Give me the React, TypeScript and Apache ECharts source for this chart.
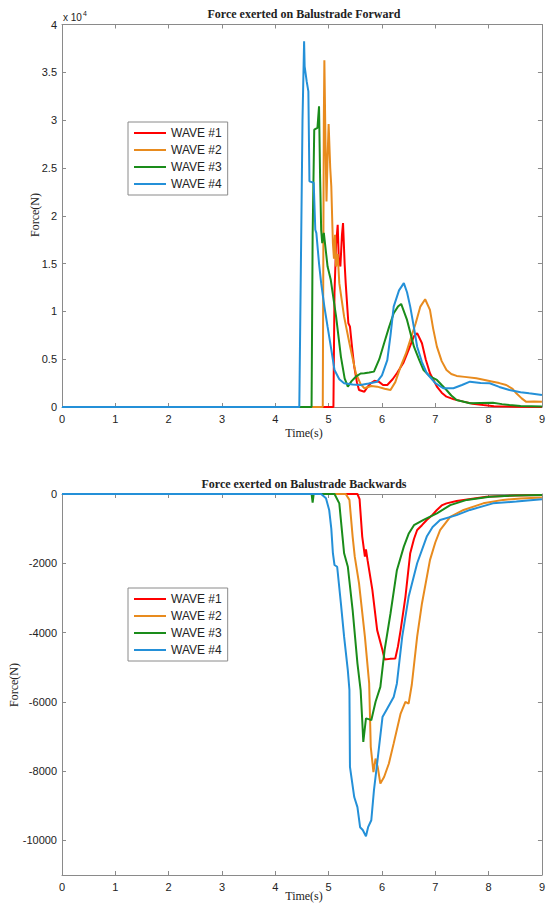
import React, { useEffect, useRef } from "react";
import * as echarts from "echarts";

const waveNames = ["WAVE #1", "WAVE #2", "WAVE #3", "WAVE #4"];
const waveColors = ["#ff0000", "#e88b1e", "#1a8c1a", "#2490d8"];
const timeTicks = [0, 1, 2, 3, 4, 5, 6, 7, 8, 9];
const backTicks = [0, -2000, -4000, -6000, -8000, -10000];

// Forward force [time s, force N]
const fwdWave1 = [[0,0],[5.09,0],[5.11,12000],[5.14,17000],[5.17,19060],[5.19,15500],[5.22,14690],[5.25,18000],[5.27,19230],[5.30,15000],[5.32,12950],[5.37,8760],[5.40,8400],[5.44,6200],[5.48,4220],[5.53,2600],[5.57,1780],[5.67,1600],[5.73,2100],[5.79,2480],[5.86,2750],[5.94,2650],[6.02,2300],[6.10,2300],[6.20,2900],[6.28,3530],[6.40,4600],[6.50,5970],[6.60,7400],[6.66,7720],[6.75,6670],[6.82,5000],[6.90,3530],[7.03,2130],[7.12,1500],[7.21,1080],[7.35,800],[7.53,560],[7.70,350],[7.90,210],[8.10,80],[8.5,30],[9,0]];
const fwdWave2 = [[0,0],[4.89,0],[4.91,30000],[4.92,36260],[4.94,28000],[4.96,21500],[4.98,26000],[5.00,29600],[5.03,25000],[5.05,23070],[5.07,19000],[5.08,17140],[5.10,15500],[5.12,18000],[5.14,14690],[5.17,16000],[5.20,12950],[5.29,9450],[5.39,6670],[5.51,3530],[5.60,2400],[5.67,1960],[5.80,2200],[5.91,2130],[6.05,1900],[6.16,1780],[6.25,2600],[6.35,4220],[6.45,5600],[6.53,7010],[6.63,8700],[6.72,10500],[6.81,11270],[6.90,10150],[6.96,8200],[7.03,6310],[7.12,4800],[7.21,3870],[7.30,3450],[7.40,3250],[7.55,3150],[7.77,3000],[7.95,2800],[8.08,2650],[8.20,2500],[8.33,2300],[8.45,1900],[8.52,1430],[8.62,900],[8.70,560],[8.85,580],[9,560]];
const fwdWave3 = [[0,0],[4.68,0],[4.70,18000],[4.73,29000],[4.79,29180],[4.82,31440],[4.84,24000],[4.86,18530],[4.88,17140],[4.91,18210],[4.98,14690],[5.04,13300],[5.14,9450],[5.23,5270],[5.30,3000],[5.36,2130],[5.43,2700],[5.51,3170],[5.60,3500],[5.67,3530],[5.76,3600],[5.85,3700],[5.95,5000],[6.04,6670],[6.13,8300],[6.22,9810],[6.30,10500],[6.36,10780],[6.47,9110],[6.60,6310],[6.70,4900],[6.78,3870],[6.90,3200],[7.03,2830],[7.12,2300],[7.21,1780],[7.30,1200],[7.40,730],[7.65,390],[7.85,420],[8.08,450],[8.25,300],[8.39,210],[8.6,100],[9,50]];
const fwdWave4 = [[0,0],[4.45,0],[4.48,15000],[4.51,30000],[4.54,38250],[4.55,35630],[4.59,34000],[4.62,33000],[4.64,23600],[4.72,23450],[4.75,18530],[4.77,18180],[4.82,15000],[4.86,12950],[4.92,10500],[4.98,8400],[5.05,6000],[5.11,3870],[5.20,2900],[5.29,2480],[5.45,2350],[5.60,2300],[5.75,2450],[5.91,2650],[6.00,3300],[6.10,4900],[6.16,7500],[6.22,10500],[6.32,12200],[6.41,12950],[6.47,12000],[6.53,10500],[6.60,8300],[6.66,6300],[6.75,4700],[6.84,3530],[7.00,2500],[7.15,1960],[7.34,1960],[7.50,2300],[7.65,2650],[7.85,2500],[8.02,2480],[8.20,2100],[8.39,1780],[8.60,1550],[8.76,1430],[9,1260]];

// Backward force [time s, force N]
const bwdWave1 = [[0,0],[5.54,0],[5.58,-150],[5.63,-1230],[5.68,-1810],[5.70,-1600],[5.73,-1910],[5.82,-2770],[5.91,-3930],[6.01,-4510],[6.05,-4780],[6.15,-4760],[6.25,-4750],[6.30,-4400],[6.35,-3930],[6.44,-2970],[6.53,-1710],[6.60,-1300],[6.66,-1040],[6.75,-900],[6.84,-750],[6.95,-600],[7.03,-460],[7.12,-330],[7.21,-270],[7.40,-200],[7.53,-170],[7.96,-80],[8.5,-40],[9,-30]];
const bwdWave2 = [[0,0],[5.32,0],[5.39,-170],[5.45,-1230],[5.49,-1810],[5.57,-2580],[5.68,-4120],[5.76,-5470],[5.79,-7300],[5.84,-8030],[5.88,-7640],[5.92,-7880],[5.97,-8360],[6.04,-8170],[6.13,-7780],[6.22,-7200],[6.35,-6340],[6.44,-6000],[6.50,-6050],[6.56,-5500],[6.66,-4120],[6.75,-3160],[6.90,-1910],[7.00,-1400],[7.09,-1040],[7.28,-660],[7.53,-460],[7.90,-270],[8.27,-170],[8.6,-130],[9,-100]];
const bwdWave3 = [[0,0],[4.68,0],[4.70,-250],[4.72,0],[5.11,0],[5.20,-270],[5.26,-1230],[5.29,-1710],[5.36,-2100],[5.45,-3350],[5.54,-4890],[5.60,-5660],[5.63,-6530],[5.65,-7160],[5.70,-6480],[5.75,-6500],[5.80,-6530],[5.88,-6000],[5.97,-5570],[6.05,-4500],[6.16,-3450],[6.28,-2200],[6.41,-1520],[6.50,-1150],[6.60,-900],[6.78,-750],[7.03,-560],[7.28,-320],[7.59,-170],[8.02,-80],[8.5,-40],[9,-30]];
const bwdWave4 = [[0,0],[4.86,0],[4.95,-125],[5.01,-460],[5.05,-1000],[5.08,-1710],[5.11,-2050],[5.16,-2100],[5.23,-3160],[5.29,-4120],[5.36,-5090],[5.39,-5660],[5.40,-7880],[5.48,-8750],[5.54,-9040],[5.59,-9620],[5.64,-9700],[5.70,-9880],[5.74,-9620],[5.80,-9420],[5.85,-8550],[5.91,-7780],[6.01,-6440],[6.10,-6190],[6.22,-5860],[6.28,-5470],[6.38,-4120],[6.50,-2970],[6.66,-2000],[6.84,-1230],[6.95,-950],[7.09,-750],[7.40,-610],[7.65,-460],[8.08,-270],[8.52,-220],[9,-150]];

const fwdData = [fwdWave1, fwdWave2, fwdWave3, fwdWave4];
const bwdData = [bwdWave1, bwdWave2, bwdWave3, bwdWave4];

const AXIS_COLOR = "#8a8a8a";
const LABEL_FONT = "Liberation Sans, Arial, sans-serif";
const SERIF = "Liberation Serif, Times New Roman, serif";

function xAxisDef(gridIndex: number, position: "top" | "bottom") {
  return {
    type: "value",
    gridIndex,
    position,
    min: 0,
    max: 9,
    interval: 1,
    axisLine: { show: true, onZero: false, lineStyle: { color: AXIS_COLOR, width: 1 } },
    axisTick: { show: true, inside: true, length: 4, lineStyle: { color: AXIS_COLOR } },
    axisLabel: {
      show: position === "bottom",
      margin: 6,
      fontFamily: LABEL_FONT,
      fontSize: 11,
      color: "#222",
      customValues: timeTicks,
      formatter: (v: number) => String(v),
    },
    splitLine: { show: false },
  };
}

export default function App() {
  const ref = useRef<HTMLDivElement>(null);
  useEffect(() => {
    if (!ref.current) return;
    const chart = echarts.init(ref.current, undefined, { renderer: "svg" });
    const legendBase = {
      orient: "vertical",
      left: 128,
      data: waveNames,
      icon: "rect",
      itemWidth: 32,
      itemHeight: 2,
      itemGap: 3,
      padding: [4, 6, 4, 6],
      borderColor: "#8a8a8a",
      borderWidth: 1,
      backgroundColor: "#fff",
      textStyle: { fontFamily: LABEL_FONT, fontSize: 12, color: "#222", lineHeight: 14 },
    };
    const series: any[] = [];
    fwdData.forEach((d, i) =>
      series.push({
        type: "line",
        name: waveNames[i],
        xAxisIndex: 0,
        yAxisIndex: 0,
        data: d,
        showSymbol: false,
        lineStyle: { width: 2, color: waveColors[i] },
        itemStyle: { color: waveColors[i] },
      })
    );
    bwdData.forEach((d, i) =>
      series.push({
        type: "line",
        name: waveNames[i],
        xAxisIndex: 2,
        yAxisIndex: 2,
        data: d,
        showSymbol: false,
        lineStyle: { width: 2, color: waveColors[i] },
        itemStyle: { color: waveColors[i] },
      })
    );
    chart.setOption({
      animation: false,
      backgroundColor: "#fff",
      grid: [
        { left: 62, top: 24.5, width: 484, height: 382.5 },
        { left: 62, top: 494, width: 484, height: 381 },
      ],
      xAxis: [xAxisDef(0, "bottom"), xAxisDef(0, "top"), xAxisDef(1, "bottom"), xAxisDef(1, "top")],
      yAxis: [
        {
          type: "value",
          gridIndex: 0,
          position: "left",
          min: 0,
          max: 40000,
          interval: 5000,
          axisLine: { show: true, onZero: false, lineStyle: { color: AXIS_COLOR } },
          axisTick: { show: true, inside: true, length: 4, lineStyle: { color: AXIS_COLOR } },
          axisLabel: {
            margin: 5,
            fontFamily: LABEL_FONT,
            fontSize: 11,
            color: "#222",
            formatter: (v: number) => String(v / 10000),
          },
          splitLine: { show: false },
        },
        {
          type: "value",
          gridIndex: 0,
          position: "right",
          min: 0,
          max: 40000,
          interval: 5000,
          axisLine: { show: true, onZero: false, lineStyle: { color: AXIS_COLOR } },
          axisTick: { show: true, inside: true, length: 4, lineStyle: { color: AXIS_COLOR } },
          axisLabel: { show: false },
          splitLine: { show: false },
        },
        {
          type: "value",
          gridIndex: 1,
          position: "left",
          min: -11000,
          max: 0,
          interval: 1000,
          axisLine: { show: true, onZero: false, lineStyle: { color: AXIS_COLOR } },
          axisTick: { show: true, inside: true, length: 4, lineStyle: { color: AXIS_COLOR }, customValues: backTicks },
          axisLabel: {
            margin: 5,
            fontFamily: LABEL_FONT,
            fontSize: 11,
            color: "#222",
            customValues: backTicks,
            formatter: (v: number) => String(v),
          },
          splitLine: { show: false },
        },
        {
          type: "value",
          gridIndex: 1,
          position: "right",
          min: -11000,
          max: 0,
          interval: 1000,
          axisLine: { show: true, onZero: false, lineStyle: { color: AXIS_COLOR } },
          axisTick: { show: true, inside: true, length: 4, lineStyle: { color: AXIS_COLOR }, customValues: backTicks },
          axisLabel: { show: false },
          splitLine: { show: false },
        },
      ],
      legend: [
        { ...legendBase, top: 122 },
        { ...legendBase, top: 588 },
      ],
      graphic: [
        {
          type: "text",
          x: 304,
          y: 14,
          style: {
            text: "Force exerted on Balustrade Forward",
            font: `bold 12px ${SERIF}`,
            fill: "#222",
            textAlign: "center",
            textVerticalAlign: "middle",
          },
        },
        {
          type: "text",
          x: 304,
          y: 484,
          style: {
            text: "Force exerted on Balustrade Backwards",
            font: `bold 12px ${SERIF}`,
            fill: "#222",
            textAlign: "center",
            textVerticalAlign: "middle",
          },
        },
        {
          type: "text",
          x: 63,
          y: 17,
          style: {
            text: "x 10{s|4}",
            font: `10px ${LABEL_FONT}`,
            fill: "#222",
            textVerticalAlign: "middle",
            rich: { s: { fontSize: 7, fontFamily: LABEL_FONT, padding: [0, 0, 8, 1], fill: "#222" } },
          },
        },
        {
          type: "text",
          x: 304,
          y: 433,
          style: { text: "Time(s)", font: `12px ${SERIF}`, fill: "#222", textAlign: "center", textVerticalAlign: "middle" },
        },
        {
          type: "text",
          x: 304,
          y: 896,
          style: { text: "Time(s)", font: `12px ${SERIF}`, fill: "#222", textAlign: "center", textVerticalAlign: "middle" },
        },
        {
          type: "text",
          x: 35,
          y: 215,
          rotation: Math.PI / 2,
          style: { text: "Force(N)", font: `12px ${SERIF}`, fill: "#222", textAlign: "center", textVerticalAlign: "middle" },
        },
        {
          type: "text",
          x: 14,
          y: 685,
          rotation: Math.PI / 2,
          style: { text: "Force(N)", font: `12px ${SERIF}`, fill: "#222", textAlign: "center", textVerticalAlign: "middle" },
        },
      ],
      series,
    });
    return () => chart.dispose();
  }, []);
  return (
    <div
      ref={ref}
      style={{ position: "absolute", left: 0, top: 0, width: 548, height: 903, background: "#fff" }}
    />
  );
}
